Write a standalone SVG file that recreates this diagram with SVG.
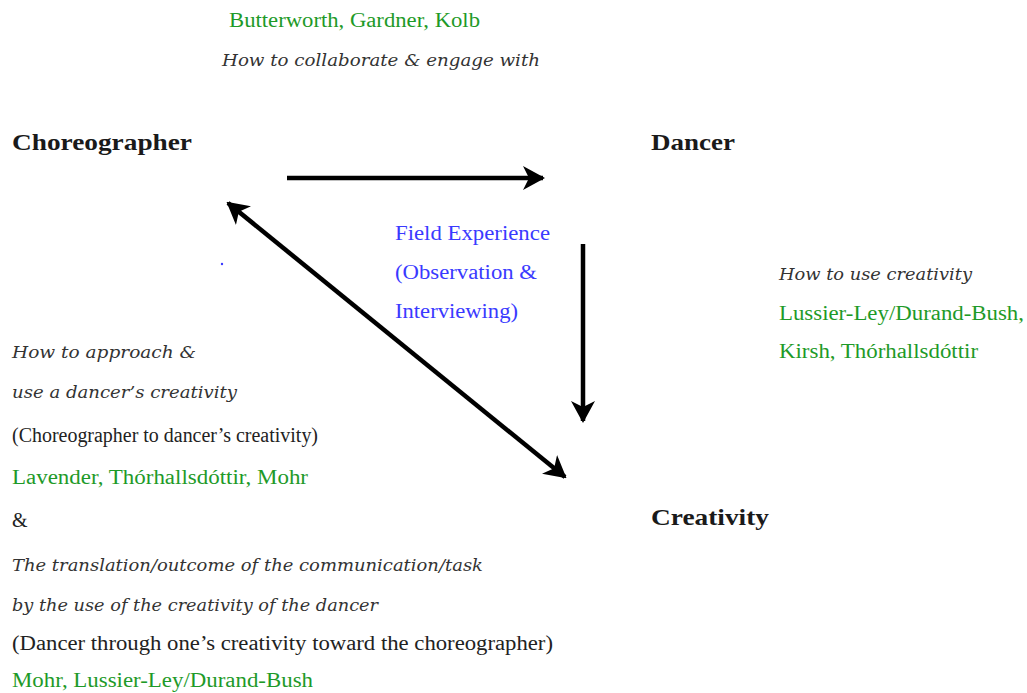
<svg xmlns="http://www.w3.org/2000/svg" width="1027" height="693" viewBox="0 0 1027 693">
<style>
text{font-family:"Liberation Serif","Times New Roman",serif;font-size:20px;fill:#222}
.b{font-weight:bold;font-size:23px;fill:#1a1a1a}
.i{font-family:"DejaVu Serif","Liberation Serif",serif;font-style:italic;font-size:16px;fill:#333}
.g{fill:#1e9a28}
.bl{fill:#3a3aff}
.c{stroke:#000;stroke-width:4.5;fill:none}
</style>
<defs>
<marker id="ah" viewBox="0 0 22 24" refX="20" refY="12" markerWidth="22" markerHeight="24" markerUnits="userSpaceOnUse" orient="auto-start-reverse">
<path d="M0,0 L22,12 L0,24 L6,12 Z" fill="#000"/>
</marker>
</defs>
<rect width="1027" height="693" fill="#fff"/>
<g id="top-notes">
<text class="g" x="229" y="27" textLength="251" lengthAdjust="spacingAndGlyphs">Butterworth, Gardner, Kolb</text>
<text class="i" x="222" y="66" textLength="318" lengthAdjust="spacingAndGlyphs">How to collaborate &amp; engage with</text>
</g>
<g id="node-choreographer"><text class="b" x="12" y="150" textLength="180" lengthAdjust="spacingAndGlyphs">Choreographer</text></g>
<g id="node-dancer"><text class="b" x="651" y="150" textLength="84" lengthAdjust="spacingAndGlyphs">Dancer</text></g>
<g id="node-creativity"><text class="b" x="651" y="525" textLength="118" lengthAdjust="spacingAndGlyphs">Creativity</text></g>
<g id="connectors">
<line class="c" x1="287" y1="178" x2="543" y2="178" marker-end="url(#ah)"/>
<line class="c" x1="583" y1="244" x2="583" y2="421" marker-end="url(#ah)"/>
<line class="c" x1="228" y1="203" x2="565" y2="477" marker-start="url(#ah)" marker-end="url(#ah)"/>
</g>
<circle cx="222" cy="264" r="1.2" fill="#3a3aff"/>
<g id="field-experience">
<text class="bl" x="395" y="240" textLength="155" lengthAdjust="spacingAndGlyphs">Field Experience</text>
<text class="bl" x="395" y="279" textLength="142" lengthAdjust="spacingAndGlyphs">(Observation &amp;</text>
<text class="bl" x="395" y="318" textLength="123" lengthAdjust="spacingAndGlyphs">Interviewing)</text>
</g>
<g id="dancer-notes">
<text class="i" x="779" y="280" textLength="193" lengthAdjust="spacingAndGlyphs">How to use creativity</text>
<text class="g" x="779" y="320" textLength="245" lengthAdjust="spacingAndGlyphs">Lussier-Ley/Durand-Bush,</text>
<text class="g" x="779" y="358" textLength="199" lengthAdjust="spacingAndGlyphs">Kirsh, Thórhallsdóttir</text>
</g>
<g id="left-notes">
<text class="i" x="12" y="358" textLength="184" lengthAdjust="spacingAndGlyphs">How to approach &amp;</text>
<text class="i" x="12" y="398" textLength="225" lengthAdjust="spacingAndGlyphs">use a dancer’s creativity</text>
<text x="12" y="442" textLength="306" lengthAdjust="spacingAndGlyphs">(Choreographer to dancer’s creativity)</text>
<text class="g" x="12" y="484" textLength="296" lengthAdjust="spacingAndGlyphs">Lavender, Thórhallsdóttir, Mohr</text>
<text x="12" y="527">&amp;</text>
<text class="i" x="12" y="571" textLength="471" lengthAdjust="spacingAndGlyphs">The translation/outcome of the communication/task</text>
<text class="i" x="12" y="611" textLength="366" lengthAdjust="spacingAndGlyphs">by the use of the creativity of the dancer</text>
<text x="12" y="650" textLength="541" lengthAdjust="spacingAndGlyphs">(Dancer through one’s creativity toward the choreographer)</text>
<text class="g" x="12" y="687" textLength="301" lengthAdjust="spacingAndGlyphs">Mohr, Lussier-Ley/Durand-Bush</text>
</g>
</svg>
